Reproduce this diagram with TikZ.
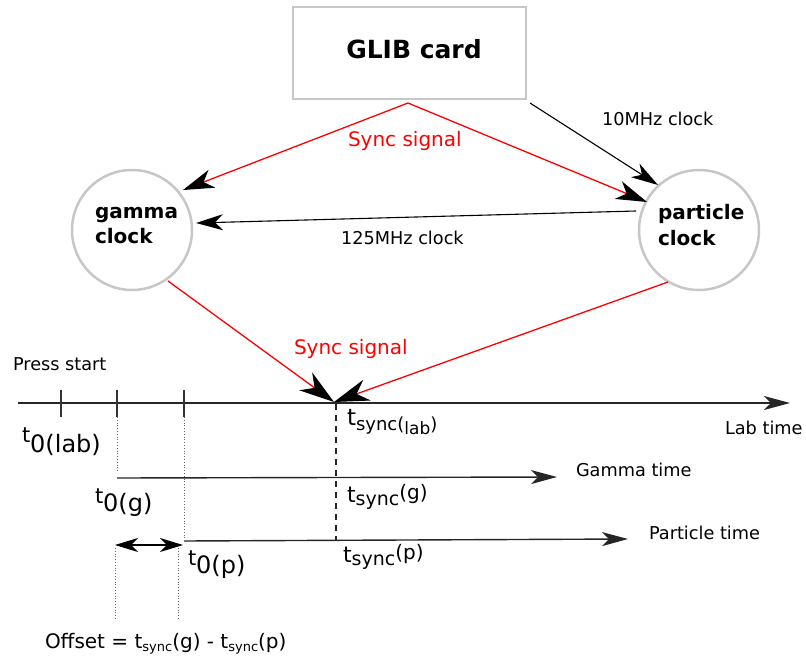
\documentclass[tikz,border=0pt]{standalone}
\usepackage{fontspec}
\setmainfont{DejaVu Sans}
\usetikzlibrary{arrows.meta}
\newcommand{\fs}[1]{\fontsize{#1}{#1}\selectfont}
\begin{document}
\begin{tikzpicture}[x=1pt,y=-1pt,
  every node/.style={inner sep=0pt, outer sep=0pt},
  cardbox/.style={draw=black!22, line width=2pt, minimum width=233pt, minimum height=92pt},
  clk/.style={draw=black!22, line width=2.5pt, circle, minimum size=120pt},
  sig/.style={draw=red, line width=1.3pt, -{Stealth[length=31pt,width=19pt,inset=9pt,color=black]}},
  bigsig/.style={draw=red, line width=1.3pt, -{Stealth[length=35pt,width=22pt,inset=11pt,color=black]}},
  blk/.style={draw=black, line width=1.1pt, -{Stealth[length=27pt,width=16pt,inset=8pt]}},
  axisline/.style={draw=black!85, line width=1.4pt, -{Stealth[length=26pt,width=14pt,inset=7pt]}},
  tick/.style={draw=black!80, line width=1.2pt},
  dotline/.style={draw=black!60, line width=0.8pt, dotted},
  lbl/.style={anchor=base west, font=\fs{17.7}},
  redlbl/.style={anchor=base west, font=\fs{20}, text=red},
  bold/.style={anchor=base west, font=\fs{20}\bfseries, align=left}
]
\useasboundingbox (0,0) rectangle (806,661);

% top part
\node[cardbox] (glib) at (409.5,53) {};
\node[anchor=base, font=\fs{25}\bfseries] (glibt) at (414,59) {GLIB card};
\node[clk] (gamma) at (132,230) {};
\node[clk] (particle) at (699,230) {};
\node[bold] (gammat) at (95,218) {gamma};
\node[bold] (gammac) at (95,243) {clock};
\node[bold] (partt) at (658,219) {particle};
\node[bold] (partc) at (658,245) {clock};

\coordinate (gs) at (408,103);
\coordinate (gtip) at (183,190);
\coordinate (ptip) at (647,202);
\coordinate (ts) at (530,103);
\coordinate (ttip) at (658,185);
\coordinate (cs) at (636,211);
\coordinate (ctip) at (196,223);
\draw[sig] (gs) -- (gtip);
\draw[sig] (gs) -- (ptip);
\draw[blk] (ts) -- (ttip);
\draw[blk] (cs) -- (ctip);
\node[redlbl] (sync1) at (348,146.5) {Sync signal};
\node[lbl] (mhz10) at (602,125) {10MHz clock};
\node[lbl] (mhz125) at (341,244) {125MHz clock};

% sync to timeline
\coordinate (gb) at (168,281);
\coordinate (pb) at (668,282);
\coordinate (sy) at (334,402);
\draw[bigsig] (gb) -- (sy);
\draw[bigsig] (pb) -- (sy);
\node[redlbl] (sync2) at (294,354) {Sync signal};

% timeline
\node[lbl] (press) at (13,370) {Press start};
\coordinate (labs) at (18,403);
\coordinate (labe) at (790,403);
\draw[axisline] (labs) -- (labe);
\node[lbl] (labt) at (725,434) {Lab time};
\coordinate (k1a) at (61,390); \coordinate (k1b) at (61,417);
\coordinate (k2a) at (117,390); \coordinate (k2b) at (117,417);
\coordinate (k3a) at (184,390); \coordinate (k3b) at (184,417);
\draw[tick] (k1a) -- (k1b);
\draw[tick] (k2a) -- (k2b);
\draw[tick] (k3a) -- (k3b);

\coordinate (gms) at (117,478);
\coordinate (gme) at (557,477);
\draw[axisline] (gms) -- (gme);
\node[lbl] (gmt) at (576,476) {Gamma time};
\coordinate (pts) at (184,541);
\coordinate (pte) at (628,539);
\draw[axisline] (pts) -- (pte);
\node[lbl] (ptt) at (649,539) {Particle time};

\draw[dotline] (k2b) -- (117,472);
\draw[dotline] (k3b) -- (184,540);
\coordinate (ds) at (336,404);
\coordinate (de) at (336,540);
\draw[black!85, line width=1.4pt, dash pattern=on 6pt off 5pt] (ds) -- (de);

% offset
\coordinate (oa) at (115,545);
\coordinate (ob) at (183,545);
\draw[line width=1.1pt, {Stealth[length=23pt,width=14pt,inset=7pt]}-{Stealth[length=23pt,width=14pt,inset=7pt]}] (oa) -- (ob);
\coordinate (o1a) at (115,548); \coordinate (o1b) at (115,619);
\coordinate (o2a) at (178,548); \coordinate (o2b) at (178,619);
\draw[dotline] (o1a) -- (o1b);
\draw[dotline] (o2a) -- (o2b);
\node[anchor=base west, font=\fs{20}] (offs) at (45,648)
  {Offset = t\raisebox{-3pt}{\fs{13}sync}(g) - t\raisebox{-3pt}{\fs{13}sync}(p)};

% time labels
\node[anchor=base west, font=\fs{21}] (t0lab) at (22,442)
  {t\raisebox{-10pt}{\fs{24}0(lab)}};
\node[anchor=base west, font=\fs{21}] (t0g) at (95,503)
  {t\raisebox{-8pt}{\fs{24}0(g)}};
\node[anchor=base west, font=\fs{21}] (t0p) at (188,565)
  {t\raisebox{-8pt}{\fs{24}0(p)}};
\node[anchor=base west, font=\fs{23}] (tslab) at (347,425)
  {t\raisebox{-5pt}{\fs{18}sync(\raisebox{-4pt}{\fs{17}lab})}};
\node[anchor=base west, font=\fs{22}] (tsg) at (347,502)
  {t\raisebox{-3pt}{\fs{19}sync}\raisebox{3pt}{\fs{20}(g)}};
\node[anchor=base west, font=\fs{22}] (tsp) at (343,562)
  {t\raisebox{-3pt}{\fs{19}sync}\raisebox{3pt}{\fs{20}(p)}};
\end{tikzpicture}
\end{document}
